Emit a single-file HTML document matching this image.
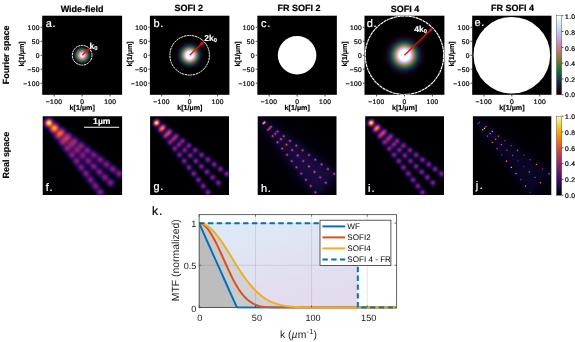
<!DOCTYPE html>
<html><head><meta charset="utf-8"><title>SOFI figure</title>
<style>html,body{margin:0;padding:0;background:#fff;overflow:hidden}body{width:575px;height:342px;font-family:"Liberation Sans",sans-serif}</style></head>
<body>
<svg width="575" height="342" viewBox="0 0 575 342" style="display:block;will-change:transform;text-rendering:geometricPrecision;font-family:'Liberation Sans',sans-serif">
<defs>
<filter id="inf" x="0" y="0" width="1" height="1" color-interpolation-filters="sRGB"><feComponentTransfer><feFuncR type="table" tableValues="0.0015 0.0060 0.0140 0.0258 0.0423 0.0613 0.0820 0.1046 0.1293 0.1558 0.1834 0.2111 0.2383 0.2648 0.2908 0.3163 0.3478 0.3728 0.3977 0.4225 0.4474 0.4723 0.4973 0.5222 0.5472 0.5721 0.5969 0.6217 0.6463 0.6706 0.6946 0.7183 0.7471 0.7696 0.7913 0.8122 0.8323 0.8514 0.8694 0.8863 0.9020 0.9165 0.9296 0.9415 0.9521 0.9613 0.9692 0.9757 0.9819 0.9853 0.9873 0.9879 0.9871 0.9849 0.9812 0.9761 0.9698 0.9625 0.9550 0.9487 0.9464 0.9517 0.9662 0.9884"/><feFuncG type="table" tableValues="0.0005 0.0047 0.0112 0.0193 0.0281 0.0366 0.0433 0.0470 0.0473 0.0446 0.0403 0.0370 0.0366 0.0396 0.0456 0.0535 0.0646 0.0739 0.0833 0.0925 0.1016 0.1105 0.1194 0.1281 0.1369 0.1458 0.1548 0.1642 0.1739 0.1842 0.1950 0.2066 0.2224 0.2361 0.2509 0.2668 0.2839 0.3023 0.3218 0.3426 0.3645 0.3875 0.4115 0.4364 0.4622 0.4887 0.5159 0.5438 0.5794 0.6084 0.6379 0.6677 0.6979 0.7284 0.7591 0.7900 0.8208 0.8515 0.8816 0.9105 0.9372 0.9606 0.9807 0.9984"/><feFuncB type="table" tableValues="0.0139 0.0386 0.0719 0.1059 0.1411 0.1776 0.2153 0.2534 0.2908 0.3253 0.3550 0.3786 0.3964 0.4093 0.4186 0.4251 0.4302 0.4324 0.4332 0.4327 0.4311 0.4283 0.4245 0.4195 0.4135 0.4064 0.3981 0.3888 0.3784 0.3669 0.3544 0.3409 0.3229 0.3075 0.2914 0.2747 0.2574 0.2396 0.2215 0.2030 0.1841 0.1649 0.1454 0.1254 0.1050 0.0843 0.0635 0.0436 0.0262 0.0242 0.0349 0.0583 0.0877 0.1208 0.1569 0.1960 0.2387 0.2855 0.3375 0.3953 0.4586 0.5242 0.5872 0.6449"/></feComponentTransfer></filter>
<radialGradient id="gwf" cx="0.5" cy="0.5" r="0.5">
<stop offset="0.0000" stop-color="#ffffff"/>
<stop offset="0.0250" stop-color="#ffffff"/>
<stop offset="0.0500" stop-color="#ffffff"/>
<stop offset="0.0750" stop-color="#ffffff"/>
<stop offset="0.1000" stop-color="#ffffff"/>
<stop offset="0.1250" stop-color="#effaf4"/>
<stop offset="0.1500" stop-color="#dcf3ef"/>
<stop offset="0.1750" stop-color="#cfebef"/>
<stop offset="0.2000" stop-color="#c5dff2"/>
<stop offset="0.2250" stop-color="#c1d1f3"/>
<stop offset="0.2500" stop-color="#c3c1f2"/>
<stop offset="0.2750" stop-color="#c8afea"/>
<stop offset="0.3000" stop-color="#cf9fdd"/>
<stop offset="0.3250" stop-color="#d391c9"/>
<stop offset="0.3500" stop-color="#d486af"/>
<stop offset="0.3750" stop-color="#d07e93"/>
<stop offset="0.4000" stop-color="#c57a76"/>
<stop offset="0.4250" stop-color="#b3795b"/>
<stop offset="0.4500" stop-color="#9f7948"/>
<stop offset="0.4750" stop-color="#847a38"/>
<stop offset="0.5000" stop-color="#6c7b31"/>
<stop offset="0.5250" stop-color="#54792f"/>
<stop offset="0.5500" stop-color="#3f7632"/>
<stop offset="0.5750" stop-color="#2d7038"/>
<stop offset="0.6000" stop-color="#206840"/>
<stop offset="0.6250" stop-color="#195e47"/>
<stop offset="0.6500" stop-color="#15524c"/>
<stop offset="0.6750" stop-color="#15464e"/>
<stop offset="0.7000" stop-color="#163b4e"/>
<stop offset="0.7250" stop-color="#182f49"/>
<stop offset="0.7500" stop-color="#1a2543"/>
<stop offset="0.7750" stop-color="#1b1c3a"/>
<stop offset="0.8000" stop-color="#1a142f"/>
<stop offset="0.8250" stop-color="#180f25"/>
<stop offset="0.8500" stop-color="#140a1b"/>
<stop offset="0.8750" stop-color="#100713"/>
<stop offset="0.9000" stop-color="#0b040c"/>
<stop offset="0.9250" stop-color="#050205"/>
<stop offset="0.9500" stop-color="#020102"/>
<stop offset="0.9750" stop-color="#000000"/>
<stop offset="1.0000" stop-color="#000000"/>
</radialGradient>
<radialGradient id="gs2" cx="0.5" cy="0.5" r="0.5">
<stop offset="0.0000" stop-color="#ffffff"/>
<stop offset="0.0250" stop-color="#ffffff"/>
<stop offset="0.0500" stop-color="#ffffff"/>
<stop offset="0.0750" stop-color="#ffffff"/>
<stop offset="0.1000" stop-color="#ffffff"/>
<stop offset="0.1250" stop-color="#ffffff"/>
<stop offset="0.1500" stop-color="#ffffff"/>
<stop offset="0.1750" stop-color="#edfaf4"/>
<stop offset="0.2000" stop-color="#d1edef"/>
<stop offset="0.2250" stop-color="#c2d7f3"/>
<stop offset="0.2500" stop-color="#c5b8ef"/>
<stop offset="0.2750" stop-color="#d198d4"/>
<stop offset="0.3000" stop-color="#d382a3"/>
<stop offset="0.3250" stop-color="#bf796d"/>
<stop offset="0.3500" stop-color="#937a40"/>
<stop offset="0.3750" stop-color="#637a2f"/>
<stop offset="0.4000" stop-color="#3a7533"/>
<stop offset="0.4250" stop-color="#206840"/>
<stop offset="0.4500" stop-color="#16554b"/>
<stop offset="0.4750" stop-color="#15424e"/>
<stop offset="0.5000" stop-color="#18314a"/>
<stop offset="0.5250" stop-color="#1a2240"/>
<stop offset="0.5500" stop-color="#1a1835"/>
<stop offset="0.5750" stop-color="#181027"/>
<stop offset="0.6000" stop-color="#150b1d"/>
<stop offset="0.6250" stop-color="#110815"/>
<stop offset="0.6500" stop-color="#0e050f"/>
<stop offset="0.6750" stop-color="#0a030a"/>
<stop offset="0.7000" stop-color="#070206"/>
<stop offset="0.7250" stop-color="#030103"/>
<stop offset="0.7500" stop-color="#020102"/>
<stop offset="0.7750" stop-color="#020102"/>
<stop offset="0.8000" stop-color="#000000"/>
<stop offset="0.8250" stop-color="#000000"/>
<stop offset="0.8500" stop-color="#000000"/>
<stop offset="0.8750" stop-color="#000000"/>
<stop offset="0.9000" stop-color="#000000"/>
<stop offset="0.9250" stop-color="#000000"/>
<stop offset="0.9500" stop-color="#000000"/>
<stop offset="0.9750" stop-color="#000000"/>
<stop offset="1.0000" stop-color="#000000"/>
</radialGradient>
<radialGradient id="gs4" cx="0.5" cy="0.5" r="0.5">
<stop offset="0.0000" stop-color="#ffffff"/>
<stop offset="0.0250" stop-color="#ffffff"/>
<stop offset="0.0500" stop-color="#ffffff"/>
<stop offset="0.0750" stop-color="#ffffff"/>
<stop offset="0.1000" stop-color="#ffffff"/>
<stop offset="0.1250" stop-color="#ffffff"/>
<stop offset="0.1500" stop-color="#d9f2ef"/>
<stop offset="0.1750" stop-color="#c1d1f3"/>
<stop offset="0.2000" stop-color="#cf9fdd"/>
<stop offset="0.2250" stop-color="#d07e93"/>
<stop offset="0.2500" stop-color="#a1794a"/>
<stop offset="0.2750" stop-color="#5a7a2f"/>
<stop offset="0.3000" stop-color="#2a6e3a"/>
<stop offset="0.3250" stop-color="#16554b"/>
<stop offset="0.3500" stop-color="#163b4e"/>
<stop offset="0.3750" stop-color="#1a2543"/>
<stop offset="0.4000" stop-color="#1a1733"/>
<stop offset="0.4250" stop-color="#170e23"/>
<stop offset="0.4500" stop-color="#120817"/>
<stop offset="0.4750" stop-color="#0e050f"/>
<stop offset="0.5000" stop-color="#080308"/>
<stop offset="0.5250" stop-color="#050205"/>
<stop offset="0.5500" stop-color="#030103"/>
<stop offset="0.5750" stop-color="#020102"/>
<stop offset="0.6000" stop-color="#000000"/>
<stop offset="0.6250" stop-color="#000000"/>
<stop offset="0.6500" stop-color="#000000"/>
<stop offset="0.6750" stop-color="#000000"/>
<stop offset="0.7000" stop-color="#000000"/>
<stop offset="0.7250" stop-color="#000000"/>
<stop offset="0.7500" stop-color="#000000"/>
<stop offset="0.7750" stop-color="#000000"/>
<stop offset="0.8000" stop-color="#000000"/>
<stop offset="0.8250" stop-color="#000000"/>
<stop offset="0.8500" stop-color="#000000"/>
<stop offset="0.8750" stop-color="#000000"/>
<stop offset="0.9000" stop-color="#000000"/>
<stop offset="0.9250" stop-color="#000000"/>
<stop offset="0.9500" stop-color="#000000"/>
<stop offset="0.9750" stop-color="#000000"/>
<stop offset="1.0000" stop-color="#000000"/>
</radialGradient>
<linearGradient id="cbc" x1="0" y1="1" x2="0" y2="0">
<stop offset="0.0000" stop-color="#000000"/>
<stop offset="0.0312" stop-color="#0c050e"/>
<stop offset="0.0625" stop-color="#150b1d"/>
<stop offset="0.0938" stop-color="#19132d"/>
<stop offset="0.1250" stop-color="#1b1e3b"/>
<stop offset="0.1562" stop-color="#192a46"/>
<stop offset="0.1875" stop-color="#17374d"/>
<stop offset="0.2188" stop-color="#15464e"/>
<stop offset="0.2500" stop-color="#16534c"/>
<stop offset="0.2812" stop-color="#1a6046"/>
<stop offset="0.3125" stop-color="#236a3e"/>
<stop offset="0.3438" stop-color="#317236"/>
<stop offset="0.3750" stop-color="#447731"/>
<stop offset="0.4062" stop-color="#5a7a2f"/>
<stop offset="0.4375" stop-color="#727b32"/>
<stop offset="0.4688" stop-color="#8a7a3b"/>
<stop offset="0.5000" stop-color="#a1794a"/>
<stop offset="0.5312" stop-color="#b5795e"/>
<stop offset="0.5625" stop-color="#c57a76"/>
<stop offset="0.5938" stop-color="#cf7e8f"/>
<stop offset="0.6250" stop-color="#d484a9"/>
<stop offset="0.6562" stop-color="#d48dc1"/>
<stop offset="0.6875" stop-color="#d198d4"/>
<stop offset="0.7188" stop-color="#cca6e4"/>
<stop offset="0.7500" stop-color="#c6b4ee"/>
<stop offset="0.7812" stop-color="#c2c3f2"/>
<stop offset="0.8125" stop-color="#c1d1f3"/>
<stop offset="0.8438" stop-color="#c4ddf2"/>
<stop offset="0.8750" stop-color="#cbe8f0"/>
<stop offset="0.9062" stop-color="#d6f0ef"/>
<stop offset="0.9375" stop-color="#e3f6f0"/>
<stop offset="0.9688" stop-color="#f2fbf6"/>
<stop offset="1.0000" stop-color="#ffffff"/>
</linearGradient>
<linearGradient id="cbi" x1="0" y1="1" x2="0" y2="0">
<stop offset="0.0000" stop-color="#000004"/>
<stop offset="0.0312" stop-color="#040312"/>
<stop offset="0.0625" stop-color="#0b0724"/>
<stop offset="0.0938" stop-color="#150b37"/>
<stop offset="0.1250" stop-color="#210c4a"/>
<stop offset="0.1562" stop-color="#2f0a5b"/>
<stop offset="0.1875" stop-color="#3d0965"/>
<stop offset="0.2188" stop-color="#4a0c6b"/>
<stop offset="0.2500" stop-color="#57106e"/>
<stop offset="0.2812" stop-color="#64156e"/>
<stop offset="0.3125" stop-color="#71196e"/>
<stop offset="0.3438" stop-color="#7d1e6d"/>
<stop offset="0.3750" stop-color="#8a226a"/>
<stop offset="0.4062" stop-color="#972766"/>
<stop offset="0.4375" stop-color="#a32c61"/>
<stop offset="0.4688" stop-color="#b0315b"/>
<stop offset="0.5000" stop-color="#bc3754"/>
<stop offset="0.5312" stop-color="#c73e4c"/>
<stop offset="0.5625" stop-color="#d24644"/>
<stop offset="0.5938" stop-color="#db503b"/>
<stop offset="0.6250" stop-color="#e45a31"/>
<stop offset="0.6562" stop-color="#eb6628"/>
<stop offset="0.6875" stop-color="#f1731d"/>
<stop offset="0.7188" stop-color="#f68013"/>
<stop offset="0.7500" stop-color="#f98e09"/>
<stop offset="0.7812" stop-color="#fb9d07"/>
<stop offset="0.8125" stop-color="#fcac11"/>
<stop offset="0.8438" stop-color="#fbbc21"/>
<stop offset="0.8750" stop-color="#f9cb35"/>
<stop offset="0.9062" stop-color="#f5db4c"/>
<stop offset="0.9375" stop-color="#f2ea69"/>
<stop offset="0.9688" stop-color="#f3f68a"/>
<stop offset="1.0000" stop-color="#fcffa4"/>
</linearGradient>
<radialGradient id="blob" cx="0.5" cy="0.5" r="0.5">
<stop offset="0.0000" stop-color="#fff" stop-opacity="1.0000"/>
<stop offset="0.0625" stop-color="#fff" stop-opacity="0.9826"/>
<stop offset="0.1250" stop-color="#fff" stop-opacity="0.9321"/>
<stop offset="0.1875" stop-color="#fff" stop-opacity="0.8537"/>
<stop offset="0.2500" stop-color="#fff" stop-opacity="0.7548"/>
<stop offset="0.3125" stop-color="#fff" stop-opacity="0.6444"/>
<stop offset="0.3750" stop-color="#fff" stop-opacity="0.5311"/>
<stop offset="0.4375" stop-color="#fff" stop-opacity="0.4226"/>
<stop offset="0.5000" stop-color="#fff" stop-opacity="0.3247"/>
<stop offset="0.5625" stop-color="#fff" stop-opacity="0.2408"/>
<stop offset="0.6250" stop-color="#fff" stop-opacity="0.1724"/>
<stop offset="0.6875" stop-color="#fff" stop-opacity="0.1192"/>
<stop offset="0.7500" stop-color="#fff" stop-opacity="0.0796"/>
<stop offset="0.8125" stop-color="#fff" stop-opacity="0.0513"/>
<stop offset="0.8750" stop-color="#fff" stop-opacity="0.0319"/>
<stop offset="0.9375" stop-color="#fff" stop-opacity="0.0192"/>
<stop offset="1.0000" stop-color="#fff" stop-opacity="0.0000"/>
</radialGradient>
<linearGradient id="frfill" x1="0" y1="0" x2="0.35" y2="1"><stop offset="0" stop-color="#dcebf7"/><stop offset="1" stop-color="#e4dbee"/></linearGradient>
<clipPath id="c10"><rect x="42.2" y="15.7" width="79.89999999999999" height="79.1"/></clipPath>
<clipPath id="c20"><rect x="42.7" y="116.15" width="79.40" height="78.75"/></clipPath>
<clipPath id="c11"><rect x="149.9" y="15.7" width="79.5" height="79.1"/></clipPath>
<clipPath id="c21"><rect x="150.1" y="116.15" width="78.90" height="78.75"/></clipPath>
<clipPath id="c12"><rect x="257.35" y="15.7" width="79.5" height="79.1"/></clipPath>
<clipPath id="c22"><rect x="257.7" y="116.15" width="78.80" height="78.75"/></clipPath>
<clipPath id="c13"><rect x="364.5" y="15.7" width="79.89999999999998" height="79.1"/></clipPath>
<clipPath id="c23"><rect x="365.2" y="116.15" width="78.80" height="78.75"/></clipPath>
<clipPath id="c14"><rect x="472.2" y="15.7" width="79.30000000000001" height="79.1"/></clipPath>
<clipPath id="c24"><rect x="472.9" y="116.15" width="78.40" height="78.75"/></clipPath>
</defs>
<rect width="575" height="342" fill="#fff"/>
<text transform="translate(8.6,54.9) rotate(-90)" text-anchor="middle" font-weight="bold" font-size="8.95" stroke="#000" stroke-width="0.15">Fourier space</text>
<text transform="translate(8.6,155.1) rotate(-90)" text-anchor="middle" font-weight="bold" font-size="8.95" stroke="#000" stroke-width="0.15">Real space</text>
<text x="82.15" y="12.1" text-anchor="middle" font-weight="bold" font-size="9.0" stroke="#000" stroke-width="0.2">Wide-field</text>
<rect x="42.2" y="15.7" width="79.89999999999999" height="79.1" fill="#000"/>
<g clip-path="url(#c10)">
<circle cx="82.15" cy="55.25" r="10.06" fill="url(#gwf)"/>
<circle cx="82.15" cy="55.25" r="9.85" fill="none" stroke="#fff" stroke-width="1.0" stroke-dasharray="2.2 0.6"/>
<line x1="82.15" y1="55.25" x2="88.16" y2="49.45" stroke="#f00" stroke-width="1.3"/>
<polygon points="89.24,48.41 84.89,49.96 87.53,52.69" fill="#f00"/>
<text x="89.44" y="48.91" fill="#fff" stroke="#fff" stroke-width="0.15" font-weight="bold" font-size="8.5">k<tspan font-size="5.8" dy="1.2">0</tspan></text>
</g>
<text x="45.8" y="26.5" fill="#fff" stroke="#fff" stroke-width="0.2" letter-spacing="0.7" font-size="11.0">a.</text>
<line x1="54.20" y1="94.8" x2="54.20" y2="96.5" stroke="#000" stroke-width="0.7"/>
<text x="54.10" y="103.70" text-anchor="middle" font-size="6.7" fill="#000" letter-spacing="0.35" stroke="#000" stroke-width="0.22">−100</text>
<line x1="82.15" y1="94.8" x2="82.15" y2="96.5" stroke="#000" stroke-width="0.7"/>
<text x="82.30" y="103.70" text-anchor="middle" font-size="6.7" fill="#000" letter-spacing="0.35" stroke="#000" stroke-width="0.22">0</text>
<line x1="110.10" y1="94.8" x2="110.10" y2="96.5" stroke="#000" stroke-width="0.7"/>
<text x="110.25" y="103.70" text-anchor="middle" font-size="6.7" fill="#000" letter-spacing="0.35" stroke="#000" stroke-width="0.22">100</text>
<line x1="40.5" y1="83.20" x2="42.2" y2="83.20" stroke="#000" stroke-width="0.7"/>
<text x="39.80" y="85.60" text-anchor="end" font-size="6.7" fill="#000" letter-spacing="0.35" stroke="#000" stroke-width="0.22">−100</text>
<line x1="40.5" y1="69.22" x2="42.2" y2="69.22" stroke="#000" stroke-width="0.7"/>
<text x="39.80" y="71.62" text-anchor="end" font-size="6.7" fill="#000" letter-spacing="0.35" stroke="#000" stroke-width="0.22">−50</text>
<line x1="40.5" y1="55.25" x2="42.2" y2="55.25" stroke="#000" stroke-width="0.7"/>
<text x="39.80" y="57.65" text-anchor="end" font-size="6.7" fill="#000" letter-spacing="0.35" stroke="#000" stroke-width="0.22">0</text>
<line x1="40.5" y1="41.27" x2="42.2" y2="41.27" stroke="#000" stroke-width="0.7"/>
<text x="39.80" y="43.67" text-anchor="end" font-size="6.7" fill="#000" letter-spacing="0.35" stroke="#000" stroke-width="0.22">50</text>
<line x1="40.5" y1="27.30" x2="42.2" y2="27.30" stroke="#000" stroke-width="0.7"/>
<text x="39.80" y="29.70" text-anchor="end" font-size="6.7" fill="#000" letter-spacing="0.35" stroke="#000" stroke-width="0.22">100</text>
<text x="82.2" y="110.4" text-anchor="middle" font-weight="bold" font-size="7.2" stroke="#000" stroke-width="0.15">k[1/µm]</text>
<text transform="translate(24.4,53.9) rotate(-90)" text-anchor="middle" font-weight="bold" font-size="7.2" stroke="#000" stroke-width="0.15">k[1/µm]</text>
<text x="188.65" y="11.3" text-anchor="middle" font-weight="bold" font-size="9.0" stroke="#000" stroke-width="0.2">SOFI 2</text>
<rect x="149.9" y="15.7" width="79.5" height="79.1" fill="#000"/>
<g clip-path="url(#c11)">
<circle cx="189.65" cy="55.25" r="20.12" fill="url(#gs2)"/>
<circle cx="189.65" cy="55.25" r="19.80" fill="none" stroke="#fff" stroke-width="1.0" stroke-dasharray="2.2 0.6"/>
<line x1="189.65" y1="55.25" x2="202.81" y2="42.54" stroke="#f00" stroke-width="1.3"/>
<polygon points="203.89,41.50 199.55,43.05 202.19,45.78" fill="#f00"/>
<text x="204.29" y="40.50" fill="#fff" stroke="#fff" stroke-width="0.15" font-weight="bold" font-size="8.5">2k<tspan font-size="5.8" dy="1.2">0</tspan></text>
</g>
<text x="153.5" y="26.5" fill="#fff" stroke="#fff" stroke-width="0.2" letter-spacing="0.7" font-size="11.0">b.</text>
<line x1="161.70" y1="94.8" x2="161.70" y2="96.5" stroke="#000" stroke-width="0.7"/>
<text x="161.60" y="103.70" text-anchor="middle" font-size="6.7" fill="#000" letter-spacing="0.35" stroke="#000" stroke-width="0.22">−100</text>
<line x1="189.65" y1="94.8" x2="189.65" y2="96.5" stroke="#000" stroke-width="0.7"/>
<text x="189.80" y="103.70" text-anchor="middle" font-size="6.7" fill="#000" letter-spacing="0.35" stroke="#000" stroke-width="0.22">0</text>
<line x1="217.60" y1="94.8" x2="217.60" y2="96.5" stroke="#000" stroke-width="0.7"/>
<text x="217.75" y="103.70" text-anchor="middle" font-size="6.7" fill="#000" letter-spacing="0.35" stroke="#000" stroke-width="0.22">100</text>
<line x1="148.20000000000002" y1="83.20" x2="149.9" y2="83.20" stroke="#000" stroke-width="0.7"/>
<text x="147.50" y="85.60" text-anchor="end" font-size="6.7" fill="#000" letter-spacing="0.35" stroke="#000" stroke-width="0.22">−100</text>
<line x1="148.20000000000002" y1="69.22" x2="149.9" y2="69.22" stroke="#000" stroke-width="0.7"/>
<text x="147.50" y="71.62" text-anchor="end" font-size="6.7" fill="#000" letter-spacing="0.35" stroke="#000" stroke-width="0.22">−50</text>
<line x1="148.20000000000002" y1="55.25" x2="149.9" y2="55.25" stroke="#000" stroke-width="0.7"/>
<text x="147.50" y="57.65" text-anchor="end" font-size="6.7" fill="#000" letter-spacing="0.35" stroke="#000" stroke-width="0.22">0</text>
<line x1="148.20000000000002" y1="41.27" x2="149.9" y2="41.27" stroke="#000" stroke-width="0.7"/>
<text x="147.50" y="43.67" text-anchor="end" font-size="6.7" fill="#000" letter-spacing="0.35" stroke="#000" stroke-width="0.22">50</text>
<line x1="148.20000000000002" y1="27.30" x2="149.9" y2="27.30" stroke="#000" stroke-width="0.7"/>
<text x="147.50" y="29.70" text-anchor="end" font-size="6.7" fill="#000" letter-spacing="0.35" stroke="#000" stroke-width="0.22">100</text>
<text x="189.8" y="110.4" text-anchor="middle" font-weight="bold" font-size="7.2" stroke="#000" stroke-width="0.15">k[1/µm]</text>
<text transform="translate(132.1,53.9) rotate(-90)" text-anchor="middle" font-weight="bold" font-size="7.2" stroke="#000" stroke-width="0.15">k[1/µm]</text>
<text x="298.90" y="11.2" text-anchor="middle" font-weight="bold" font-size="9.0" stroke="#000" stroke-width="0.2">FR SOFI 2</text>
<rect x="257.35" y="15.7" width="79.5" height="79.1" fill="#000"/>
<g clip-path="url(#c12)">
<circle cx="297.10" cy="55.25" r="19.25" fill="#fff"/>
</g>
<text x="261.0" y="26.5" fill="#fff" stroke="#fff" stroke-width="0.2" letter-spacing="0.7" font-size="11.0">c.</text>
<line x1="269.15" y1="94.8" x2="269.15" y2="96.5" stroke="#000" stroke-width="0.7"/>
<text x="269.05" y="103.70" text-anchor="middle" font-size="6.7" fill="#000" letter-spacing="0.35" stroke="#000" stroke-width="0.22">−100</text>
<line x1="297.10" y1="94.8" x2="297.10" y2="96.5" stroke="#000" stroke-width="0.7"/>
<text x="297.25" y="103.70" text-anchor="middle" font-size="6.7" fill="#000" letter-spacing="0.35" stroke="#000" stroke-width="0.22">0</text>
<line x1="325.05" y1="94.8" x2="325.05" y2="96.5" stroke="#000" stroke-width="0.7"/>
<text x="325.20" y="103.70" text-anchor="middle" font-size="6.7" fill="#000" letter-spacing="0.35" stroke="#000" stroke-width="0.22">100</text>
<line x1="255.65000000000003" y1="83.20" x2="257.35" y2="83.20" stroke="#000" stroke-width="0.7"/>
<text x="254.95" y="85.60" text-anchor="end" font-size="6.7" fill="#000" letter-spacing="0.35" stroke="#000" stroke-width="0.22">−100</text>
<line x1="255.65000000000003" y1="69.22" x2="257.35" y2="69.22" stroke="#000" stroke-width="0.7"/>
<text x="254.95" y="71.62" text-anchor="end" font-size="6.7" fill="#000" letter-spacing="0.35" stroke="#000" stroke-width="0.22">−50</text>
<line x1="255.65000000000003" y1="55.25" x2="257.35" y2="55.25" stroke="#000" stroke-width="0.7"/>
<text x="254.95" y="57.65" text-anchor="end" font-size="6.7" fill="#000" letter-spacing="0.35" stroke="#000" stroke-width="0.22">0</text>
<line x1="255.65000000000003" y1="41.27" x2="257.35" y2="41.27" stroke="#000" stroke-width="0.7"/>
<text x="254.95" y="43.67" text-anchor="end" font-size="6.7" fill="#000" letter-spacing="0.35" stroke="#000" stroke-width="0.22">50</text>
<line x1="255.65000000000003" y1="27.30" x2="257.35" y2="27.30" stroke="#000" stroke-width="0.7"/>
<text x="254.95" y="29.70" text-anchor="end" font-size="6.7" fill="#000" letter-spacing="0.35" stroke="#000" stroke-width="0.22">100</text>
<text x="297.2" y="110.4" text-anchor="middle" font-weight="bold" font-size="7.2" stroke="#000" stroke-width="0.15">k[1/µm]</text>
<text transform="translate(239.6,53.9) rotate(-90)" text-anchor="middle" font-weight="bold" font-size="7.2" stroke="#000" stroke-width="0.15">k[1/µm]</text>
<text x="404.95" y="11.5" text-anchor="middle" font-weight="bold" font-size="9.0" stroke="#000" stroke-width="0.2">SOFI 4</text>
<rect x="364.5" y="15.7" width="79.89999999999998" height="79.1" fill="#000"/>
<g clip-path="url(#c13)">
<circle cx="404.45" cy="55.25" r="39.13" fill="url(#gs4)"/>
<circle cx="404.45" cy="55.25" r="39.25" fill="none" stroke="#fff" stroke-width="1.15" stroke-dasharray="3.2 0.5"/>
<line x1="404.45" y1="55.25" x2="431.61" y2="29.03" stroke="#f00" stroke-width="1.3"/>
<polygon points="432.68,27.98 428.34,29.54 430.98,32.27" fill="#f00"/>
<text x="414.28" y="31.88" fill="#fff" stroke="#fff" stroke-width="0.15" font-weight="bold" font-size="8.5">4k<tspan font-size="5.8" dy="1.2">0</tspan></text>
</g>
<text x="366.8" y="26.8" fill="#fff" stroke="#fff" stroke-width="0.2" letter-spacing="0.7" font-size="11.0">d.</text>
<line x1="376.50" y1="94.8" x2="376.50" y2="96.5" stroke="#000" stroke-width="0.7"/>
<text x="376.40" y="103.70" text-anchor="middle" font-size="6.7" fill="#000" letter-spacing="0.35" stroke="#000" stroke-width="0.22">−100</text>
<line x1="404.45" y1="94.8" x2="404.45" y2="96.5" stroke="#000" stroke-width="0.7"/>
<text x="404.60" y="103.70" text-anchor="middle" font-size="6.7" fill="#000" letter-spacing="0.35" stroke="#000" stroke-width="0.22">0</text>
<line x1="432.40" y1="94.8" x2="432.40" y2="96.5" stroke="#000" stroke-width="0.7"/>
<text x="432.55" y="103.70" text-anchor="middle" font-size="6.7" fill="#000" letter-spacing="0.35" stroke="#000" stroke-width="0.22">100</text>
<line x1="362.8" y1="83.20" x2="364.5" y2="83.20" stroke="#000" stroke-width="0.7"/>
<text x="362.10" y="85.60" text-anchor="end" font-size="6.7" fill="#000" letter-spacing="0.35" stroke="#000" stroke-width="0.22">−100</text>
<line x1="362.8" y1="69.22" x2="364.5" y2="69.22" stroke="#000" stroke-width="0.7"/>
<text x="362.10" y="71.62" text-anchor="end" font-size="6.7" fill="#000" letter-spacing="0.35" stroke="#000" stroke-width="0.22">−50</text>
<line x1="362.8" y1="55.25" x2="364.5" y2="55.25" stroke="#000" stroke-width="0.7"/>
<text x="362.10" y="57.65" text-anchor="end" font-size="6.7" fill="#000" letter-spacing="0.35" stroke="#000" stroke-width="0.22">0</text>
<line x1="362.8" y1="41.27" x2="364.5" y2="41.27" stroke="#000" stroke-width="0.7"/>
<text x="362.10" y="43.67" text-anchor="end" font-size="6.7" fill="#000" letter-spacing="0.35" stroke="#000" stroke-width="0.22">50</text>
<line x1="362.8" y1="27.30" x2="364.5" y2="27.30" stroke="#000" stroke-width="0.7"/>
<text x="362.10" y="29.70" text-anchor="end" font-size="6.7" fill="#000" letter-spacing="0.35" stroke="#000" stroke-width="0.22">100</text>
<text x="404.6" y="110.4" text-anchor="middle" font-weight="bold" font-size="7.2" stroke="#000" stroke-width="0.15">k[1/µm]</text>
<text transform="translate(346.7,53.9) rotate(-90)" text-anchor="middle" font-weight="bold" font-size="7.2" stroke="#000" stroke-width="0.15">k[1/µm]</text>
<text x="512.40" y="11.4" text-anchor="middle" font-weight="bold" font-size="9.0" stroke="#000" stroke-width="0.2">FR SOFI 4</text>
<rect x="472.2" y="15.7" width="79.30000000000001" height="79.1" fill="#000"/>
<g clip-path="url(#c14)">
<circle cx="511.85" cy="55.25" r="38.3" fill="#fff"/>
</g>
<text x="474.5" y="26.1" fill="#fff" stroke="#fff" stroke-width="0.2" letter-spacing="0.7" font-size="11.0">e.</text>
<line x1="483.90" y1="94.8" x2="483.90" y2="96.5" stroke="#000" stroke-width="0.7"/>
<text x="483.80" y="103.70" text-anchor="middle" font-size="6.7" fill="#000" letter-spacing="0.35" stroke="#000" stroke-width="0.22">−100</text>
<line x1="511.85" y1="94.8" x2="511.85" y2="96.5" stroke="#000" stroke-width="0.7"/>
<text x="512.00" y="103.70" text-anchor="middle" font-size="6.7" fill="#000" letter-spacing="0.35" stroke="#000" stroke-width="0.22">0</text>
<line x1="539.80" y1="94.8" x2="539.80" y2="96.5" stroke="#000" stroke-width="0.7"/>
<text x="539.95" y="103.70" text-anchor="middle" font-size="6.7" fill="#000" letter-spacing="0.35" stroke="#000" stroke-width="0.22">100</text>
<line x1="470.5" y1="83.20" x2="472.2" y2="83.20" stroke="#000" stroke-width="0.7"/>
<text x="469.80" y="85.60" text-anchor="end" font-size="6.7" fill="#000" letter-spacing="0.35" stroke="#000" stroke-width="0.22">−100</text>
<line x1="470.5" y1="69.22" x2="472.2" y2="69.22" stroke="#000" stroke-width="0.7"/>
<text x="469.80" y="71.62" text-anchor="end" font-size="6.7" fill="#000" letter-spacing="0.35" stroke="#000" stroke-width="0.22">−50</text>
<line x1="470.5" y1="55.25" x2="472.2" y2="55.25" stroke="#000" stroke-width="0.7"/>
<text x="469.80" y="57.65" text-anchor="end" font-size="6.7" fill="#000" letter-spacing="0.35" stroke="#000" stroke-width="0.22">0</text>
<line x1="470.5" y1="41.27" x2="472.2" y2="41.27" stroke="#000" stroke-width="0.7"/>
<text x="469.80" y="43.67" text-anchor="end" font-size="6.7" fill="#000" letter-spacing="0.35" stroke="#000" stroke-width="0.22">50</text>
<line x1="470.5" y1="27.30" x2="472.2" y2="27.30" stroke="#000" stroke-width="0.7"/>
<text x="469.80" y="29.70" text-anchor="end" font-size="6.7" fill="#000" letter-spacing="0.35" stroke="#000" stroke-width="0.22">100</text>
<text x="512.0" y="110.4" text-anchor="middle" font-weight="bold" font-size="7.2" stroke="#000" stroke-width="0.15">k[1/µm]</text>
<text transform="translate(454.4,53.9) rotate(-90)" text-anchor="middle" font-weight="bold" font-size="7.2" stroke="#000" stroke-width="0.15">k[1/µm]</text>
<rect x="556.5" y="15.7" width="5.2" height="79.1" fill="url(#cbc)" stroke="#333" stroke-width="0.4"/>
<line x1="561.7" y1="94.80" x2="563.4000000000001" y2="94.80" stroke="#000" stroke-width="0.7"/>
<text x="565.10" y="97.20" font-size="6.7" fill="#000" letter-spacing="0.35" stroke="#000" stroke-width="0.22">0.0</text>
<line x1="561.7" y1="78.98" x2="563.4000000000001" y2="78.98" stroke="#000" stroke-width="0.7"/>
<text x="565.10" y="81.64" font-size="6.7" fill="#000" letter-spacing="0.35" stroke="#000" stroke-width="0.22">0.2</text>
<line x1="561.7" y1="63.16" x2="563.4000000000001" y2="63.16" stroke="#000" stroke-width="0.7"/>
<text x="565.10" y="66.08" font-size="6.7" fill="#000" letter-spacing="0.35" stroke="#000" stroke-width="0.22">0.4</text>
<line x1="561.7" y1="47.34" x2="563.4000000000001" y2="47.34" stroke="#000" stroke-width="0.7"/>
<text x="565.10" y="50.52" font-size="6.7" fill="#000" letter-spacing="0.35" stroke="#000" stroke-width="0.22">0.6</text>
<line x1="561.7" y1="31.52" x2="563.4000000000001" y2="31.52" stroke="#000" stroke-width="0.7"/>
<text x="565.10" y="34.96" font-size="6.7" fill="#000" letter-spacing="0.35" stroke="#000" stroke-width="0.22">0.8</text>
<line x1="561.7" y1="15.70" x2="563.4000000000001" y2="15.70" stroke="#000" stroke-width="0.7"/>
<text x="565.10" y="19.40" font-size="6.7" fill="#000" letter-spacing="0.35" stroke="#000" stroke-width="0.22">1.0</text>
<rect x="556.5" y="116.15" width="5.2" height="79.1" fill="url(#cbi)" stroke="#333" stroke-width="0.4"/>
<line x1="561.7" y1="195.25" x2="563.4000000000001" y2="195.25" stroke="#000" stroke-width="0.7"/>
<text x="565.10" y="198.00" font-size="6.7" fill="#000" letter-spacing="0.35" stroke="#000" stroke-width="0.22">0.0</text>
<line x1="561.7" y1="179.43" x2="563.4000000000001" y2="179.43" stroke="#000" stroke-width="0.7"/>
<text x="565.10" y="182.18" font-size="6.7" fill="#000" letter-spacing="0.35" stroke="#000" stroke-width="0.22">0.2</text>
<line x1="561.7" y1="163.61" x2="563.4000000000001" y2="163.61" stroke="#000" stroke-width="0.7"/>
<text x="565.10" y="166.36" font-size="6.7" fill="#000" letter-spacing="0.35" stroke="#000" stroke-width="0.22">0.4</text>
<line x1="561.7" y1="147.79" x2="563.4000000000001" y2="147.79" stroke="#000" stroke-width="0.7"/>
<text x="565.10" y="150.54" font-size="6.7" fill="#000" letter-spacing="0.35" stroke="#000" stroke-width="0.22">0.6</text>
<line x1="561.7" y1="131.97" x2="563.4000000000001" y2="131.97" stroke="#000" stroke-width="0.7"/>
<text x="565.10" y="134.72" font-size="6.7" fill="#000" letter-spacing="0.35" stroke="#000" stroke-width="0.22">0.8</text>
<line x1="561.7" y1="116.15" x2="563.4000000000001" y2="116.15" stroke="#000" stroke-width="0.7"/>
<text x="565.10" y="118.90" font-size="6.7" fill="#000" letter-spacing="0.35" stroke="#000" stroke-width="0.22">1.0</text>
<filter id="hz2" x="-0.5" y="-0.5" width="2" height="2" color-interpolation-filters="sRGB"><feGaussianBlur stdDeviation="9"/></filter>
<filter id="hz" x="-0.5" y="-0.5" width="2" height="2" color-interpolation-filters="sRGB"><feGaussianBlur stdDeviation="4.5"/></filter>
<g filter="url(#inf)" clip-path="url(#c20)"><g style="isolation:isolate">
<rect x="39.2" y="113.15" width="85.89999999999999" height="85.1" fill="#000"/>
<circle cx="49.61" cy="122.05" r="7.80" fill="url(#blob)" opacity="0.350" style="mix-blend-mode:plus-lighter"/>
<circle cx="55.93" cy="126.75" r="7.80" fill="url(#blob)" opacity="0.350" style="mix-blend-mode:plus-lighter"/>
<circle cx="62.24" cy="131.46" r="7.80" fill="url(#blob)" opacity="0.350" style="mix-blend-mode:plus-lighter"/>
<circle cx="68.56" cy="136.16" r="7.80" fill="url(#blob)" opacity="0.350" style="mix-blend-mode:plus-lighter"/>
<circle cx="74.88" cy="140.87" r="7.80" fill="url(#blob)" opacity="0.350" style="mix-blend-mode:plus-lighter"/>
<circle cx="81.20" cy="145.57" r="7.80" fill="url(#blob)" opacity="0.350" style="mix-blend-mode:plus-lighter"/>
<circle cx="87.51" cy="150.28" r="7.80" fill="url(#blob)" opacity="0.350" style="mix-blend-mode:plus-lighter"/>
<circle cx="93.83" cy="154.98" r="7.80" fill="url(#blob)" opacity="0.350" style="mix-blend-mode:plus-lighter"/>
<circle cx="100.15" cy="159.69" r="7.80" fill="url(#blob)" opacity="0.350" style="mix-blend-mode:plus-lighter"/>
<circle cx="106.47" cy="164.39" r="7.80" fill="url(#blob)" opacity="0.350" style="mix-blend-mode:plus-lighter"/>
<circle cx="112.78" cy="169.10" r="7.80" fill="url(#blob)" opacity="0.350" style="mix-blend-mode:plus-lighter"/>
<circle cx="119.10" cy="173.80" r="7.80" fill="url(#blob)" opacity="0.350" style="mix-blend-mode:plus-lighter"/>
<circle cx="48.90" cy="122.80" r="7.80" fill="url(#blob)" opacity="0.350" style="mix-blend-mode:plus-lighter"/>
<circle cx="54.51" cy="128.25" r="7.80" fill="url(#blob)" opacity="0.350" style="mix-blend-mode:plus-lighter"/>
<circle cx="60.12" cy="133.71" r="7.80" fill="url(#blob)" opacity="0.350" style="mix-blend-mode:plus-lighter"/>
<circle cx="65.73" cy="139.16" r="7.80" fill="url(#blob)" opacity="0.350" style="mix-blend-mode:plus-lighter"/>
<circle cx="71.34" cy="144.62" r="7.80" fill="url(#blob)" opacity="0.350" style="mix-blend-mode:plus-lighter"/>
<circle cx="76.95" cy="150.07" r="7.80" fill="url(#blob)" opacity="0.350" style="mix-blend-mode:plus-lighter"/>
<circle cx="82.55" cy="155.53" r="7.80" fill="url(#blob)" opacity="0.350" style="mix-blend-mode:plus-lighter"/>
<circle cx="88.16" cy="160.98" r="7.80" fill="url(#blob)" opacity="0.350" style="mix-blend-mode:plus-lighter"/>
<circle cx="93.77" cy="166.44" r="7.80" fill="url(#blob)" opacity="0.350" style="mix-blend-mode:plus-lighter"/>
<circle cx="99.38" cy="171.89" r="7.80" fill="url(#blob)" opacity="0.350" style="mix-blend-mode:plus-lighter"/>
<circle cx="104.99" cy="177.35" r="7.80" fill="url(#blob)" opacity="0.350" style="mix-blend-mode:plus-lighter"/>
<circle cx="110.60" cy="182.80" r="7.80" fill="url(#blob)" opacity="0.350" style="mix-blend-mode:plus-lighter"/>
<circle cx="48.04" cy="123.59" r="7.80" fill="url(#blob)" opacity="0.350" style="mix-blend-mode:plus-lighter"/>
<circle cx="52.79" cy="129.84" r="7.80" fill="url(#blob)" opacity="0.350" style="mix-blend-mode:plus-lighter"/>
<circle cx="57.54" cy="136.08" r="7.80" fill="url(#blob)" opacity="0.350" style="mix-blend-mode:plus-lighter"/>
<circle cx="62.29" cy="142.33" r="7.80" fill="url(#blob)" opacity="0.350" style="mix-blend-mode:plus-lighter"/>
<circle cx="67.04" cy="148.58" r="7.80" fill="url(#blob)" opacity="0.350" style="mix-blend-mode:plus-lighter"/>
<circle cx="71.80" cy="154.82" r="7.80" fill="url(#blob)" opacity="0.350" style="mix-blend-mode:plus-lighter"/>
<circle cx="76.55" cy="161.07" r="7.80" fill="url(#blob)" opacity="0.350" style="mix-blend-mode:plus-lighter"/>
<circle cx="81.30" cy="167.32" r="7.80" fill="url(#blob)" opacity="0.350" style="mix-blend-mode:plus-lighter"/>
<circle cx="86.05" cy="173.56" r="7.80" fill="url(#blob)" opacity="0.350" style="mix-blend-mode:plus-lighter"/>
<circle cx="90.80" cy="179.81" r="7.80" fill="url(#blob)" opacity="0.350" style="mix-blend-mode:plus-lighter"/>
<circle cx="95.55" cy="186.05" r="7.80" fill="url(#blob)" opacity="0.350" style="mix-blend-mode:plus-lighter"/>
<circle cx="100.30" cy="192.30" r="7.80" fill="url(#blob)" opacity="0.350" style="mix-blend-mode:plus-lighter"/>
</g></g>
<text x="45.8" y="191.2" fill="#fff" stroke="#fff" stroke-width="0.2" letter-spacing="0.7" font-size="11.0">f.</text>
<g filter="url(#inf)" clip-path="url(#c21)"><g style="isolation:isolate">
<rect x="146.9" y="113.15" width="85.5" height="85.1" fill="#000"/>
<circle cx="157.31" cy="122.05" r="5.85" fill="url(#blob)" opacity="0.370" style="mix-blend-mode:plus-lighter"/>
<circle cx="163.63" cy="126.75" r="5.85" fill="url(#blob)" opacity="0.370" style="mix-blend-mode:plus-lighter"/>
<circle cx="169.94" cy="131.46" r="5.85" fill="url(#blob)" opacity="0.370" style="mix-blend-mode:plus-lighter"/>
<circle cx="176.26" cy="136.16" r="5.85" fill="url(#blob)" opacity="0.370" style="mix-blend-mode:plus-lighter"/>
<circle cx="182.58" cy="140.87" r="5.85" fill="url(#blob)" opacity="0.370" style="mix-blend-mode:plus-lighter"/>
<circle cx="188.90" cy="145.57" r="5.85" fill="url(#blob)" opacity="0.370" style="mix-blend-mode:plus-lighter"/>
<circle cx="195.21" cy="150.28" r="5.85" fill="url(#blob)" opacity="0.370" style="mix-blend-mode:plus-lighter"/>
<circle cx="201.53" cy="154.98" r="5.85" fill="url(#blob)" opacity="0.370" style="mix-blend-mode:plus-lighter"/>
<circle cx="207.85" cy="159.69" r="5.85" fill="url(#blob)" opacity="0.370" style="mix-blend-mode:plus-lighter"/>
<circle cx="214.17" cy="164.39" r="5.85" fill="url(#blob)" opacity="0.370" style="mix-blend-mode:plus-lighter"/>
<circle cx="220.48" cy="169.10" r="5.85" fill="url(#blob)" opacity="0.370" style="mix-blend-mode:plus-lighter"/>
<circle cx="226.80" cy="173.80" r="5.85" fill="url(#blob)" opacity="0.370" style="mix-blend-mode:plus-lighter"/>
<circle cx="156.60" cy="122.80" r="5.85" fill="url(#blob)" opacity="0.370" style="mix-blend-mode:plus-lighter"/>
<circle cx="162.21" cy="128.25" r="5.85" fill="url(#blob)" opacity="0.370" style="mix-blend-mode:plus-lighter"/>
<circle cx="167.82" cy="133.71" r="5.85" fill="url(#blob)" opacity="0.370" style="mix-blend-mode:plus-lighter"/>
<circle cx="173.43" cy="139.16" r="5.85" fill="url(#blob)" opacity="0.370" style="mix-blend-mode:plus-lighter"/>
<circle cx="179.04" cy="144.62" r="5.85" fill="url(#blob)" opacity="0.370" style="mix-blend-mode:plus-lighter"/>
<circle cx="184.65" cy="150.07" r="5.85" fill="url(#blob)" opacity="0.370" style="mix-blend-mode:plus-lighter"/>
<circle cx="190.25" cy="155.53" r="5.85" fill="url(#blob)" opacity="0.370" style="mix-blend-mode:plus-lighter"/>
<circle cx="195.86" cy="160.98" r="5.85" fill="url(#blob)" opacity="0.370" style="mix-blend-mode:plus-lighter"/>
<circle cx="201.47" cy="166.44" r="5.85" fill="url(#blob)" opacity="0.370" style="mix-blend-mode:plus-lighter"/>
<circle cx="207.08" cy="171.89" r="5.85" fill="url(#blob)" opacity="0.370" style="mix-blend-mode:plus-lighter"/>
<circle cx="212.69" cy="177.35" r="5.85" fill="url(#blob)" opacity="0.370" style="mix-blend-mode:plus-lighter"/>
<circle cx="218.30" cy="182.80" r="5.85" fill="url(#blob)" opacity="0.370" style="mix-blend-mode:plus-lighter"/>
<circle cx="155.74" cy="123.59" r="5.85" fill="url(#blob)" opacity="0.370" style="mix-blend-mode:plus-lighter"/>
<circle cx="160.49" cy="129.84" r="5.85" fill="url(#blob)" opacity="0.370" style="mix-blend-mode:plus-lighter"/>
<circle cx="165.24" cy="136.08" r="5.85" fill="url(#blob)" opacity="0.370" style="mix-blend-mode:plus-lighter"/>
<circle cx="169.99" cy="142.33" r="5.85" fill="url(#blob)" opacity="0.370" style="mix-blend-mode:plus-lighter"/>
<circle cx="174.74" cy="148.58" r="5.85" fill="url(#blob)" opacity="0.370" style="mix-blend-mode:plus-lighter"/>
<circle cx="179.50" cy="154.82" r="5.85" fill="url(#blob)" opacity="0.370" style="mix-blend-mode:plus-lighter"/>
<circle cx="184.25" cy="161.07" r="5.85" fill="url(#blob)" opacity="0.370" style="mix-blend-mode:plus-lighter"/>
<circle cx="189.00" cy="167.32" r="5.85" fill="url(#blob)" opacity="0.370" style="mix-blend-mode:plus-lighter"/>
<circle cx="193.75" cy="173.56" r="5.85" fill="url(#blob)" opacity="0.370" style="mix-blend-mode:plus-lighter"/>
<circle cx="198.50" cy="179.81" r="5.85" fill="url(#blob)" opacity="0.370" style="mix-blend-mode:plus-lighter"/>
<circle cx="203.25" cy="186.05" r="5.85" fill="url(#blob)" opacity="0.370" style="mix-blend-mode:plus-lighter"/>
<circle cx="208.00" cy="192.30" r="5.85" fill="url(#blob)" opacity="0.370" style="mix-blend-mode:plus-lighter"/>
</g></g>
<text x="153.5" y="189.7" fill="#fff" stroke="#fff" stroke-width="0.2" letter-spacing="0.7" font-size="11.0">g.</text>
<g filter="url(#inf)" clip-path="url(#c22)"><g style="isolation:isolate">
<rect x="254.35000000000002" y="113.15" width="85.5" height="85.1" fill="#000"/>
<polygon points="262.7,117.5 339.4,174.1 315.8,197.5 258.7,121.5" fill="#fff" opacity="0.07" filter="url(#hz)" style="mix-blend-mode:plus-lighter"/>
<polygon points="262.7,117.5 339.4,174.1 315.8,197.5 258.7,121.5" fill="#fff" opacity="0.045" filter="url(#hz2)" style="mix-blend-mode:plus-lighter"/>
<circle cx="264.76" cy="122.05" r="2.34" fill="url(#blob)" opacity="0.500" style="mix-blend-mode:plus-lighter"/>
<circle cx="271.08" cy="126.75" r="2.34" fill="url(#blob)" opacity="0.520" style="mix-blend-mode:plus-lighter"/>
<circle cx="277.39" cy="131.46" r="2.34" fill="url(#blob)" opacity="0.524" style="mix-blend-mode:plus-lighter"/>
<circle cx="283.71" cy="136.16" r="2.34" fill="url(#blob)" opacity="0.552" style="mix-blend-mode:plus-lighter"/>
<circle cx="290.03" cy="140.87" r="2.34" fill="url(#blob)" opacity="0.578" style="mix-blend-mode:plus-lighter"/>
<circle cx="296.35" cy="145.57" r="2.34" fill="url(#blob)" opacity="0.534" style="mix-blend-mode:plus-lighter"/>
<circle cx="302.66" cy="150.28" r="2.34" fill="url(#blob)" opacity="0.530" style="mix-blend-mode:plus-lighter"/>
<circle cx="308.98" cy="154.98" r="2.34" fill="url(#blob)" opacity="0.487" style="mix-blend-mode:plus-lighter"/>
<circle cx="315.30" cy="159.69" r="2.34" fill="url(#blob)" opacity="0.507" style="mix-blend-mode:plus-lighter"/>
<circle cx="321.62" cy="164.39" r="2.34" fill="url(#blob)" opacity="0.530" style="mix-blend-mode:plus-lighter"/>
<circle cx="327.93" cy="169.10" r="2.34" fill="url(#blob)" opacity="0.548" style="mix-blend-mode:plus-lighter"/>
<circle cx="334.25" cy="173.80" r="2.34" fill="url(#blob)" opacity="0.560" style="mix-blend-mode:plus-lighter"/>
<circle cx="264.05" cy="122.80" r="2.34" fill="url(#blob)" opacity="0.500" style="mix-blend-mode:plus-lighter"/>
<circle cx="269.66" cy="128.25" r="2.34" fill="url(#blob)" opacity="0.520" style="mix-blend-mode:plus-lighter"/>
<circle cx="275.27" cy="133.71" r="2.34" fill="url(#blob)" opacity="0.509" style="mix-blend-mode:plus-lighter"/>
<circle cx="280.88" cy="139.16" r="2.34" fill="url(#blob)" opacity="0.571" style="mix-blend-mode:plus-lighter"/>
<circle cx="286.49" cy="144.62" r="2.34" fill="url(#blob)" opacity="0.501" style="mix-blend-mode:plus-lighter"/>
<circle cx="292.10" cy="150.07" r="2.34" fill="url(#blob)" opacity="0.525" style="mix-blend-mode:plus-lighter"/>
<circle cx="297.70" cy="155.53" r="2.34" fill="url(#blob)" opacity="0.573" style="mix-blend-mode:plus-lighter"/>
<circle cx="303.31" cy="160.98" r="2.34" fill="url(#blob)" opacity="0.482" style="mix-blend-mode:plus-lighter"/>
<circle cx="308.92" cy="166.44" r="2.34" fill="url(#blob)" opacity="0.540" style="mix-blend-mode:plus-lighter"/>
<circle cx="314.53" cy="171.89" r="2.34" fill="url(#blob)" opacity="0.575" style="mix-blend-mode:plus-lighter"/>
<circle cx="320.14" cy="177.35" r="2.34" fill="url(#blob)" opacity="0.503" style="mix-blend-mode:plus-lighter"/>
<circle cx="325.75" cy="182.80" r="2.34" fill="url(#blob)" opacity="0.535" style="mix-blend-mode:plus-lighter"/>
<circle cx="263.19" cy="123.59" r="2.34" fill="url(#blob)" opacity="0.500" style="mix-blend-mode:plus-lighter"/>
<circle cx="267.94" cy="129.84" r="2.34" fill="url(#blob)" opacity="0.520" style="mix-blend-mode:plus-lighter"/>
<circle cx="272.69" cy="136.08" r="2.34" fill="url(#blob)" opacity="0.532" style="mix-blend-mode:plus-lighter"/>
<circle cx="277.44" cy="142.33" r="2.34" fill="url(#blob)" opacity="0.555" style="mix-blend-mode:plus-lighter"/>
<circle cx="282.19" cy="148.58" r="2.34" fill="url(#blob)" opacity="0.547" style="mix-blend-mode:plus-lighter"/>
<circle cx="286.95" cy="154.82" r="2.34" fill="url(#blob)" opacity="0.527" style="mix-blend-mode:plus-lighter"/>
<circle cx="291.70" cy="161.07" r="2.34" fill="url(#blob)" opacity="0.500" style="mix-blend-mode:plus-lighter"/>
<circle cx="296.45" cy="167.32" r="2.34" fill="url(#blob)" opacity="0.529" style="mix-blend-mode:plus-lighter"/>
<circle cx="301.20" cy="173.56" r="2.34" fill="url(#blob)" opacity="0.517" style="mix-blend-mode:plus-lighter"/>
<circle cx="305.95" cy="179.81" r="2.34" fill="url(#blob)" opacity="0.528" style="mix-blend-mode:plus-lighter"/>
<circle cx="310.70" cy="186.05" r="2.34" fill="url(#blob)" opacity="0.517" style="mix-blend-mode:plus-lighter"/>
<circle cx="315.45" cy="192.30" r="2.34" fill="url(#blob)" opacity="0.564" style="mix-blend-mode:plus-lighter"/>
</g></g>
<text x="261.0" y="191.6" fill="#fff" stroke="#fff" stroke-width="0.2" letter-spacing="0.6" font-size="11.0">h.</text>
<g filter="url(#inf)" clip-path="url(#c23)"><g style="isolation:isolate">
<rect x="361.5" y="113.15" width="85.89999999999998" height="85.1" fill="#000"/>
<circle cx="371.91" cy="122.05" r="5.85" fill="url(#blob)" opacity="0.370" style="mix-blend-mode:plus-lighter"/>
<circle cx="378.23" cy="126.75" r="5.85" fill="url(#blob)" opacity="0.370" style="mix-blend-mode:plus-lighter"/>
<circle cx="384.54" cy="131.46" r="5.85" fill="url(#blob)" opacity="0.370" style="mix-blend-mode:plus-lighter"/>
<circle cx="390.86" cy="136.16" r="5.85" fill="url(#blob)" opacity="0.370" style="mix-blend-mode:plus-lighter"/>
<circle cx="397.18" cy="140.87" r="5.85" fill="url(#blob)" opacity="0.370" style="mix-blend-mode:plus-lighter"/>
<circle cx="403.50" cy="145.57" r="5.85" fill="url(#blob)" opacity="0.370" style="mix-blend-mode:plus-lighter"/>
<circle cx="409.81" cy="150.28" r="5.85" fill="url(#blob)" opacity="0.370" style="mix-blend-mode:plus-lighter"/>
<circle cx="416.13" cy="154.98" r="5.85" fill="url(#blob)" opacity="0.370" style="mix-blend-mode:plus-lighter"/>
<circle cx="422.45" cy="159.69" r="5.85" fill="url(#blob)" opacity="0.370" style="mix-blend-mode:plus-lighter"/>
<circle cx="428.77" cy="164.39" r="5.85" fill="url(#blob)" opacity="0.370" style="mix-blend-mode:plus-lighter"/>
<circle cx="435.08" cy="169.10" r="5.85" fill="url(#blob)" opacity="0.370" style="mix-blend-mode:plus-lighter"/>
<circle cx="441.40" cy="173.80" r="5.85" fill="url(#blob)" opacity="0.370" style="mix-blend-mode:plus-lighter"/>
<circle cx="371.20" cy="122.80" r="5.85" fill="url(#blob)" opacity="0.370" style="mix-blend-mode:plus-lighter"/>
<circle cx="376.81" cy="128.25" r="5.85" fill="url(#blob)" opacity="0.370" style="mix-blend-mode:plus-lighter"/>
<circle cx="382.42" cy="133.71" r="5.85" fill="url(#blob)" opacity="0.370" style="mix-blend-mode:plus-lighter"/>
<circle cx="388.03" cy="139.16" r="5.85" fill="url(#blob)" opacity="0.370" style="mix-blend-mode:plus-lighter"/>
<circle cx="393.64" cy="144.62" r="5.85" fill="url(#blob)" opacity="0.370" style="mix-blend-mode:plus-lighter"/>
<circle cx="399.25" cy="150.07" r="5.85" fill="url(#blob)" opacity="0.370" style="mix-blend-mode:plus-lighter"/>
<circle cx="404.85" cy="155.53" r="5.85" fill="url(#blob)" opacity="0.370" style="mix-blend-mode:plus-lighter"/>
<circle cx="410.46" cy="160.98" r="5.85" fill="url(#blob)" opacity="0.370" style="mix-blend-mode:plus-lighter"/>
<circle cx="416.07" cy="166.44" r="5.85" fill="url(#blob)" opacity="0.370" style="mix-blend-mode:plus-lighter"/>
<circle cx="421.68" cy="171.89" r="5.85" fill="url(#blob)" opacity="0.370" style="mix-blend-mode:plus-lighter"/>
<circle cx="427.29" cy="177.35" r="5.85" fill="url(#blob)" opacity="0.370" style="mix-blend-mode:plus-lighter"/>
<circle cx="432.90" cy="182.80" r="5.85" fill="url(#blob)" opacity="0.370" style="mix-blend-mode:plus-lighter"/>
<circle cx="370.34" cy="123.59" r="5.85" fill="url(#blob)" opacity="0.370" style="mix-blend-mode:plus-lighter"/>
<circle cx="375.09" cy="129.84" r="5.85" fill="url(#blob)" opacity="0.370" style="mix-blend-mode:plus-lighter"/>
<circle cx="379.84" cy="136.08" r="5.85" fill="url(#blob)" opacity="0.370" style="mix-blend-mode:plus-lighter"/>
<circle cx="384.59" cy="142.33" r="5.85" fill="url(#blob)" opacity="0.370" style="mix-blend-mode:plus-lighter"/>
<circle cx="389.34" cy="148.58" r="5.85" fill="url(#blob)" opacity="0.370" style="mix-blend-mode:plus-lighter"/>
<circle cx="394.10" cy="154.82" r="5.85" fill="url(#blob)" opacity="0.370" style="mix-blend-mode:plus-lighter"/>
<circle cx="398.85" cy="161.07" r="5.85" fill="url(#blob)" opacity="0.370" style="mix-blend-mode:plus-lighter"/>
<circle cx="403.60" cy="167.32" r="5.85" fill="url(#blob)" opacity="0.370" style="mix-blend-mode:plus-lighter"/>
<circle cx="408.35" cy="173.56" r="5.85" fill="url(#blob)" opacity="0.370" style="mix-blend-mode:plus-lighter"/>
<circle cx="413.10" cy="179.81" r="5.85" fill="url(#blob)" opacity="0.370" style="mix-blend-mode:plus-lighter"/>
<circle cx="417.85" cy="186.05" r="5.85" fill="url(#blob)" opacity="0.370" style="mix-blend-mode:plus-lighter"/>
<circle cx="422.60" cy="192.30" r="5.85" fill="url(#blob)" opacity="0.370" style="mix-blend-mode:plus-lighter"/>
</g></g>
<text x="368.1" y="191.5" fill="#fff" stroke="#fff" stroke-width="0.2" letter-spacing="0.8999999999999999" font-size="11.0">i.</text>
<g filter="url(#inf)" clip-path="url(#c24)"><g style="isolation:isolate">
<rect x="469.2" y="113.15" width="85.30000000000001" height="85.1" fill="#000"/>
<polygon points="477.5,117.5 554.3,174.1 530.6,197.5 473.5,121.5" fill="#fff" opacity="0.06" filter="url(#hz)" style="mix-blend-mode:plus-lighter"/>
<circle cx="479.61" cy="122.05" r="1.50" fill="url(#blob)" opacity="0.300" style="mix-blend-mode:plus-lighter"/>
<circle cx="485.93" cy="126.75" r="1.50" fill="url(#blob)" opacity="0.688" style="mix-blend-mode:plus-lighter"/>
<circle cx="492.24" cy="131.46" r="1.50" fill="url(#blob)" opacity="0.871" style="mix-blend-mode:plus-lighter"/>
<circle cx="498.56" cy="136.16" r="1.50" fill="url(#blob)" opacity="0.665" style="mix-blend-mode:plus-lighter"/>
<circle cx="504.88" cy="140.87" r="1.50" fill="url(#blob)" opacity="0.481" style="mix-blend-mode:plus-lighter"/>
<circle cx="511.20" cy="145.57" r="1.50" fill="url(#blob)" opacity="0.413" style="mix-blend-mode:plus-lighter"/>
<circle cx="517.51" cy="150.28" r="1.50" fill="url(#blob)" opacity="0.639" style="mix-blend-mode:plus-lighter"/>
<circle cx="523.83" cy="154.98" r="1.50" fill="url(#blob)" opacity="0.424" style="mix-blend-mode:plus-lighter"/>
<circle cx="530.15" cy="159.69" r="1.50" fill="url(#blob)" opacity="0.485" style="mix-blend-mode:plus-lighter"/>
<circle cx="536.47" cy="164.39" r="1.50" fill="url(#blob)" opacity="0.691" style="mix-blend-mode:plus-lighter"/>
<circle cx="542.78" cy="169.10" r="1.50" fill="url(#blob)" opacity="0.453" style="mix-blend-mode:plus-lighter"/>
<circle cx="549.10" cy="173.80" r="1.50" fill="url(#blob)" opacity="0.860" style="mix-blend-mode:plus-lighter"/>
<circle cx="478.90" cy="122.80" r="1.50" fill="url(#blob)" opacity="0.300" style="mix-blend-mode:plus-lighter"/>
<circle cx="484.51" cy="128.25" r="1.50" fill="url(#blob)" opacity="1.000" style="mix-blend-mode:plus-lighter"/>
<circle cx="490.12" cy="133.71" r="1.50" fill="url(#blob)" opacity="0.759" style="mix-blend-mode:plus-lighter"/>
<circle cx="495.73" cy="139.16" r="1.50" fill="url(#blob)" opacity="0.762" style="mix-blend-mode:plus-lighter"/>
<circle cx="501.34" cy="144.62" r="1.50" fill="url(#blob)" opacity="0.620" style="mix-blend-mode:plus-lighter"/>
<circle cx="506.95" cy="150.07" r="1.50" fill="url(#blob)" opacity="0.532" style="mix-blend-mode:plus-lighter"/>
<circle cx="512.55" cy="155.53" r="1.50" fill="url(#blob)" opacity="0.454" style="mix-blend-mode:plus-lighter"/>
<circle cx="518.16" cy="160.98" r="1.50" fill="url(#blob)" opacity="0.250" style="mix-blend-mode:plus-lighter"/>
<circle cx="523.77" cy="166.44" r="1.50" fill="url(#blob)" opacity="0.275" style="mix-blend-mode:plus-lighter"/>
<circle cx="529.38" cy="171.89" r="1.50" fill="url(#blob)" opacity="0.683" style="mix-blend-mode:plus-lighter"/>
<circle cx="534.99" cy="177.35" r="1.50" fill="url(#blob)" opacity="0.534" style="mix-blend-mode:plus-lighter"/>
<circle cx="540.60" cy="182.80" r="1.50" fill="url(#blob)" opacity="0.672" style="mix-blend-mode:plus-lighter"/>
<circle cx="478.04" cy="123.59" r="1.50" fill="url(#blob)" opacity="0.300" style="mix-blend-mode:plus-lighter"/>
<circle cx="482.79" cy="129.84" r="1.50" fill="url(#blob)" opacity="0.960" style="mix-blend-mode:plus-lighter"/>
<circle cx="487.54" cy="136.08" r="1.50" fill="url(#blob)" opacity="0.561" style="mix-blend-mode:plus-lighter"/>
<circle cx="492.29" cy="142.33" r="1.50" fill="url(#blob)" opacity="0.685" style="mix-blend-mode:plus-lighter"/>
<circle cx="497.04" cy="148.58" r="1.50" fill="url(#blob)" opacity="0.586" style="mix-blend-mode:plus-lighter"/>
<circle cx="501.80" cy="154.82" r="1.50" fill="url(#blob)" opacity="0.342" style="mix-blend-mode:plus-lighter"/>
<circle cx="506.55" cy="161.07" r="1.50" fill="url(#blob)" opacity="0.916" style="mix-blend-mode:plus-lighter"/>
<circle cx="511.30" cy="167.32" r="1.50" fill="url(#blob)" opacity="0.897" style="mix-blend-mode:plus-lighter"/>
<circle cx="516.05" cy="173.56" r="1.50" fill="url(#blob)" opacity="0.806" style="mix-blend-mode:plus-lighter"/>
<circle cx="520.80" cy="179.81" r="1.50" fill="url(#blob)" opacity="0.495" style="mix-blend-mode:plus-lighter"/>
<circle cx="525.55" cy="186.05" r="1.50" fill="url(#blob)" opacity="0.800" style="mix-blend-mode:plus-lighter"/>
<circle cx="530.30" cy="192.30" r="1.50" fill="url(#blob)" opacity="0.291" style="mix-blend-mode:plus-lighter"/>
</g></g>
<text x="475.8" y="189.4" fill="#fff" stroke="#fff" stroke-width="0.2" letter-spacing="1.6" font-size="11.0">j.</text>
<line x1="84.1" y1="127.3" x2="119.2" y2="127.3" stroke="#fff" stroke-width="1.1"/>
<text x="101.8" y="124.2" text-anchor="middle" fill="#fff" font-weight="bold" font-size="8.6" stroke="#fff" stroke-width="0.15">1µm</text>
<text x="152.0" y="214.7" font-size="12.2" letter-spacing="0.9" stroke="#000" stroke-width="0.2">k.</text>
<rect x="199.1" y="214.7" width="197.6" height="92.69999999999999" fill="#fff"/>
<rect x="199.10" y="223.13" width="158.73" height="84.27" fill="url(#frfill)"/>
<path d="M199.10,307.40 L199.10,223.13 L200.23,223.18 L201.36,223.34 L202.48,223.60 L203.61,223.96 L204.74,224.42 L205.87,224.99 L207.00,225.65 L208.12,226.41 L209.25,227.26 L210.38,228.20 L211.51,229.22 L212.64,230.33 L213.76,231.52 L214.89,232.79 L216.02,234.13 L217.15,235.53 L218.28,237.00 L219.40,238.52 L220.53,240.10 L221.66,241.72 L222.79,243.39 L223.92,245.10 L225.04,246.83 L226.17,248.60 L227.30,250.39 L228.43,252.20 L229.56,254.02 L230.68,255.85 L231.81,257.68 L232.94,259.52 L234.07,261.34 L235.20,263.16 L236.32,264.96 L237.45,266.75 L238.58,268.51 L239.71,270.25 L240.84,271.96 L241.96,273.64 L243.09,275.29 L244.22,276.90 L245.35,278.47 L246.48,280.00 L247.60,281.49 L248.73,282.93 L249.86,284.33 L250.99,285.67 L252.12,286.98 L253.24,288.23 L254.37,289.44 L255.50,290.59 L256.62,291.70 L257.74,292.75 L258.87,293.76 L259.99,294.72 L261.11,295.63 L262.23,296.50 L263.35,297.32 L264.48,298.09 L265.60,298.82 L266.72,299.50 L267.84,300.15 L268.96,300.75 L270.09,301.32 L271.21,301.84 L272.33,302.33 L273.45,302.79 L274.57,303.22 L275.70,303.61 L276.82,303.97 L277.94,304.31 L279.06,304.61 L280.18,304.90 L281.31,305.16 L282.43,305.39 L283.55,305.61 L284.67,305.81 L285.79,305.98 L286.92,306.15 L288.04,306.29 L289.16,306.42 L290.28,306.54 L291.40,306.65 L292.53,306.74 L293.65,306.83 L294.77,306.90 L295.89,306.97 L297.01,307.03 L298.14,307.08 L299.26,307.13 L300.38,307.16 L301.50,307.20 L302.62,307.23 L303.75,307.26 L304.87,307.28 L305.99,307.30 L307.11,307.32 L308.23,307.33 L309.36,307.34 L310.48,307.35 L311.60,307.36 L312.71,307.37 L313.83,307.37 L314.94,307.38 L316.06,307.38 L317.17,307.39 L318.28,307.39 L319.40,307.39 L320.51,307.39 L321.63,307.40 L322.74,307.40 L323.85,307.40 L324.97,307.40 L326.08,307.40 L327.20,307.40 L328.31,307.40 L329.42,307.40 L330.54,307.40 L331.65,307.40 L332.77,307.40 L333.88,307.40 L334.99,307.40 L336.11,307.40 L337.22,307.40 L338.34,307.40 L339.45,307.40 L340.56,307.40 L341.68,307.40 L342.79,307.40 L343.91,307.40 L345.02,307.40 L346.13,307.40 L347.25,307.40 L348.36,307.40 L349.48,307.40 L350.59,307.40 L351.70,307.40 L352.82,307.40 L353.93,307.40 L355.05,307.40 L356.16,307.40 L357.27,307.40 L358.39,307.40 L359.50,307.40 L360.62,307.40 L361.73,307.40 L362.84,307.40 L363.96,307.40 L365.07,307.40 L366.19,307.40 L367.30,307.40 L368.42,307.40 L369.54,307.40 L370.65,307.40 L371.77,307.40 L372.89,307.40 L374.01,307.40 L375.13,307.40 L376.24,307.40 L377.36,307.40 L378.48,307.40 L379.60,307.40 L380.71,307.40 L381.83,307.40 L382.95,307.40 L384.07,307.40 L385.19,307.40 L386.30,307.40 L387.42,307.40 L388.54,307.40 L389.66,307.40 L390.78,307.40 L391.89,307.40 L393.01,307.40 L394.13,307.40 L395.25,307.40 L396.36,307.40 L396.70,307.40 L396.70,307.40 Z" fill="#cfcfd6" fill-opacity="0.85"/>
<path d="M199.10,307.40 L199.10,223.13 L200.23,223.24 L201.36,223.56 L202.48,224.10 L203.61,224.82 L204.74,225.73 L205.87,226.82 L207.00,228.07 L208.12,229.48 L209.25,231.03 L210.38,232.71 L211.51,234.52 L212.64,236.44 L213.76,238.47 L214.89,240.59 L216.02,242.80 L217.15,245.08 L218.28,247.42 L219.40,249.82 L220.53,252.26 L221.66,254.73 L222.79,257.23 L223.92,259.74 L225.04,262.26 L226.17,264.77 L227.30,267.26 L228.43,269.72 L229.56,272.15 L230.68,274.53 L231.81,276.86 L232.94,279.11 L234.07,281.29 L235.20,283.38 L236.32,285.38 L237.45,287.26 L238.58,289.04 L239.71,290.71 L240.84,292.27 L241.96,293.73 L243.09,295.10 L244.22,296.37 L245.35,297.55 L246.48,298.64 L247.60,299.65 L248.73,300.58 L249.86,301.43 L250.99,302.21 L252.12,302.92 L253.24,303.56 L254.37,304.13 L255.50,304.65 L256.62,305.11 L257.74,305.51 L258.87,305.86 L259.99,306.17 L261.11,306.43 L262.23,306.65 L263.35,306.84 L264.48,306.99 L265.60,307.11 L266.72,307.21 L267.84,307.28 L268.96,307.33 L270.09,307.36 L271.21,307.38 L272.33,307.40 L273.45,307.40 L274.57,307.40 L275.70,307.40 L276.82,307.40 L277.94,307.40 L279.06,307.40 L280.18,307.40 L281.31,307.40 L282.43,307.40 L283.55,307.40 L284.67,307.40 L285.79,307.40 L286.92,307.40 L288.04,307.40 L289.16,307.40 L290.28,307.40 L291.40,307.40 L292.53,307.40 L293.65,307.40 L294.77,307.40 L295.89,307.40 L297.01,307.40 L298.14,307.40 L299.26,307.40 L300.38,307.40 L301.50,307.40 L302.62,307.40 L303.75,307.40 L304.87,307.40 L305.99,307.40 L307.11,307.40 L308.23,307.40 L309.36,307.40 L310.48,307.40 L311.60,307.40 L312.71,307.40 L313.83,307.40 L314.94,307.40 L316.06,307.40 L317.17,307.40 L318.28,307.40 L319.40,307.40 L320.51,307.40 L321.63,307.40 L322.74,307.40 L323.85,307.40 L324.97,307.40 L326.08,307.40 L327.20,307.40 L328.31,307.40 L329.42,307.40 L330.54,307.40 L331.65,307.40 L332.77,307.40 L333.88,307.40 L334.99,307.40 L336.11,307.40 L337.22,307.40 L338.34,307.40 L339.45,307.40 L340.56,307.40 L341.68,307.40 L342.79,307.40 L343.91,307.40 L345.02,307.40 L346.13,307.40 L347.25,307.40 L348.36,307.40 L349.48,307.40 L350.59,307.40 L351.70,307.40 L352.82,307.40 L353.93,307.40 L355.05,307.40 L356.16,307.40 L357.27,307.40 L358.39,307.40 L359.50,307.40 L360.62,307.40 L361.73,307.40 L362.84,307.40 L363.96,307.40 L365.07,307.40 L366.19,307.40 L367.30,307.40 L368.42,307.40 L369.54,307.40 L370.65,307.40 L371.77,307.40 L372.89,307.40 L374.01,307.40 L375.13,307.40 L376.24,307.40 L377.36,307.40 L378.48,307.40 L379.60,307.40 L380.71,307.40 L381.83,307.40 L382.95,307.40 L384.07,307.40 L385.19,307.40 L386.30,307.40 L387.42,307.40 L388.54,307.40 L389.66,307.40 L390.78,307.40 L391.89,307.40 L393.01,307.40 L394.13,307.40 L395.25,307.40 L396.36,307.40 L396.70,307.40 L396.70,307.40 Z" fill="#c9c9c9" fill-opacity="0.9"/>
<path d="M199.10,307.40 L199.10,223.13 L200.23,225.64 L201.36,228.16 L202.48,230.67 L203.61,233.19 L204.74,235.71 L205.87,238.22 L207.00,240.74 L208.12,243.25 L209.25,245.77 L210.38,248.28 L211.51,250.80 L212.64,253.31 L213.76,255.83 L214.89,258.35 L216.02,260.86 L217.15,263.38 L218.28,265.89 L219.40,268.41 L220.53,270.92 L221.66,273.44 L222.79,275.95 L223.92,278.47 L225.04,280.99 L226.17,283.50 L227.30,286.02 L228.43,288.53 L229.56,291.05 L230.68,293.56 L231.81,296.08 L232.94,298.60 L234.07,301.11 L235.20,303.63 L236.32,306.14 L237.45,307.40 L238.58,307.40 L239.71,307.40 L240.84,307.40 L241.96,307.40 L243.09,307.40 L244.22,307.40 L245.35,307.40 L246.48,307.40 L247.60,307.40 L248.73,307.40 L249.86,307.40 L250.99,307.40 L252.12,307.40 L253.24,307.40 L254.37,307.40 L255.50,307.40 L256.62,307.40 L257.74,307.40 L258.87,307.40 L259.99,307.40 L261.11,307.40 L262.23,307.40 L263.35,307.40 L264.48,307.40 L265.60,307.40 L266.72,307.40 L267.84,307.40 L268.96,307.40 L270.09,307.40 L271.21,307.40 L272.33,307.40 L273.45,307.40 L274.57,307.40 L275.70,307.40 L276.82,307.40 L277.94,307.40 L279.06,307.40 L280.18,307.40 L281.31,307.40 L282.43,307.40 L283.55,307.40 L284.67,307.40 L285.79,307.40 L286.92,307.40 L288.04,307.40 L289.16,307.40 L290.28,307.40 L291.40,307.40 L292.53,307.40 L293.65,307.40 L294.77,307.40 L295.89,307.40 L297.01,307.40 L298.14,307.40 L299.26,307.40 L300.38,307.40 L301.50,307.40 L302.62,307.40 L303.75,307.40 L304.87,307.40 L305.99,307.40 L307.11,307.40 L308.23,307.40 L309.36,307.40 L310.48,307.40 L311.60,307.40 L312.71,307.40 L313.83,307.40 L314.94,307.40 L316.06,307.40 L317.17,307.40 L318.28,307.40 L319.40,307.40 L320.51,307.40 L321.63,307.40 L322.74,307.40 L323.85,307.40 L324.97,307.40 L326.08,307.40 L327.20,307.40 L328.31,307.40 L329.42,307.40 L330.54,307.40 L331.65,307.40 L332.77,307.40 L333.88,307.40 L334.99,307.40 L336.11,307.40 L337.22,307.40 L338.34,307.40 L339.45,307.40 L340.56,307.40 L341.68,307.40 L342.79,307.40 L343.91,307.40 L345.02,307.40 L346.13,307.40 L347.25,307.40 L348.36,307.40 L349.48,307.40 L350.59,307.40 L351.70,307.40 L352.82,307.40 L353.93,307.40 L355.05,307.40 L356.16,307.40 L357.27,307.40 L358.39,307.40 L359.50,307.40 L360.62,307.40 L361.73,307.40 L362.84,307.40 L363.96,307.40 L365.07,307.40 L366.19,307.40 L367.30,307.40 L368.42,307.40 L369.54,307.40 L370.65,307.40 L371.77,307.40 L372.89,307.40 L374.01,307.40 L375.13,307.40 L376.24,307.40 L377.36,307.40 L378.48,307.40 L379.60,307.40 L380.71,307.40 L381.83,307.40 L382.95,307.40 L384.07,307.40 L385.19,307.40 L386.30,307.40 L387.42,307.40 L388.54,307.40 L389.66,307.40 L390.78,307.40 L391.89,307.40 L393.01,307.40 L394.13,307.40 L395.25,307.40 L396.36,307.40 L396.70,307.40 L396.70,307.40 Z" fill="#bdbdbd" fill-opacity="1"/>
<line x1="255.50" y1="214.7" x2="255.50" y2="307.4" stroke="#000" stroke-opacity="0.17" stroke-width="0.6"/>
<line x1="311.60" y1="214.7" x2="311.60" y2="307.4" stroke="#000" stroke-opacity="0.17" stroke-width="0.6"/>
<line x1="367.30" y1="214.7" x2="367.30" y2="307.4" stroke="#000" stroke-opacity="0.17" stroke-width="0.6"/>
<line x1="199.1" y1="265.26" x2="396.7" y2="265.26" stroke="#000" stroke-opacity="0.17" stroke-width="0.6"/>
<line x1="199.1" y1="223.13" x2="396.7" y2="223.13" stroke="#000" stroke-opacity="0.17" stroke-width="0.6"/>
<rect x="199.1" y="214.7" width="197.6" height="92.69999999999999" fill="none" stroke="#262626" stroke-width="0.7"/>
<clipPath id="axc"><rect x="199.1" y="214.7" width="197.6" height="93.99999999999999"/></clipPath>
<g clip-path="url(#axc)">
<path d="M199.10,223.13 L200.23,225.64 L201.36,228.16 L202.48,230.67 L203.61,233.19 L204.74,235.71 L205.87,238.22 L207.00,240.74 L208.12,243.25 L209.25,245.77 L210.38,248.28 L211.51,250.80 L212.64,253.31 L213.76,255.83 L214.89,258.35 L216.02,260.86 L217.15,263.38 L218.28,265.89 L219.40,268.41 L220.53,270.92 L221.66,273.44 L222.79,275.95 L223.92,278.47 L225.04,280.99 L226.17,283.50 L227.30,286.02 L228.43,288.53 L229.56,291.05 L230.68,293.56 L231.81,296.08 L232.94,298.60 L234.07,301.11 L235.20,303.63 L236.32,306.14 L237.45,307.40 L238.58,307.40 L239.71,307.40 L240.84,307.40 L241.96,307.40 L243.09,307.40 L244.22,307.40 L245.35,307.40 L246.48,307.40 L247.60,307.40 L248.73,307.40 L249.86,307.40 L250.99,307.40 L252.12,307.40 L253.24,307.40 L254.37,307.40 L255.50,307.40 L256.62,307.40 L257.74,307.40 L258.87,307.40 L259.99,307.40 L261.11,307.40 L262.23,307.40 L263.35,307.40 L264.48,307.40 L265.60,307.40 L266.72,307.40 L267.84,307.40 L268.96,307.40 L270.09,307.40 L271.21,307.40 L272.33,307.40 L273.45,307.40 L274.57,307.40 L275.70,307.40 L276.82,307.40 L277.94,307.40 L279.06,307.40 L280.18,307.40 L281.31,307.40 L282.43,307.40 L283.55,307.40 L284.67,307.40 L285.79,307.40 L286.92,307.40 L288.04,307.40 L289.16,307.40 L290.28,307.40 L291.40,307.40 L292.53,307.40 L293.65,307.40 L294.77,307.40 L295.89,307.40 L297.01,307.40 L298.14,307.40 L299.26,307.40 L300.38,307.40 L301.50,307.40 L302.62,307.40 L303.75,307.40 L304.87,307.40 L305.99,307.40 L307.11,307.40 L308.23,307.40 L309.36,307.40 L310.48,307.40 L311.60,307.40 L312.71,307.40 L313.83,307.40 L314.94,307.40 L316.06,307.40 L317.17,307.40 L318.28,307.40 L319.40,307.40 L320.51,307.40 L321.63,307.40 L322.74,307.40 L323.85,307.40 L324.97,307.40 L326.08,307.40 L327.20,307.40 L328.31,307.40 L329.42,307.40 L330.54,307.40 L331.65,307.40 L332.77,307.40 L333.88,307.40 L334.99,307.40 L336.11,307.40 L337.22,307.40 L338.34,307.40 L339.45,307.40 L340.56,307.40 L341.68,307.40 L342.79,307.40 L343.91,307.40 L345.02,307.40 L346.13,307.40 L347.25,307.40 L348.36,307.40 L349.48,307.40 L350.59,307.40 L351.70,307.40 L352.82,307.40 L353.93,307.40 L355.05,307.40 L356.16,307.40 L357.27,307.40 L358.39,307.40 L359.50,307.40 L360.62,307.40 L361.73,307.40 L362.84,307.40 L363.96,307.40 L365.07,307.40 L366.19,307.40 L367.30,307.40 L368.42,307.40 L369.54,307.40 L370.65,307.40 L371.77,307.40 L372.89,307.40 L374.01,307.40 L375.13,307.40 L376.24,307.40 L377.36,307.40 L378.48,307.40 L379.60,307.40 L380.71,307.40 L381.83,307.40 L382.95,307.40 L384.07,307.40 L385.19,307.40 L386.30,307.40 L387.42,307.40 L388.54,307.40 L389.66,307.40 L390.78,307.40 L391.89,307.40 L393.01,307.40 L394.13,307.40 L395.25,307.40 L396.36,307.40 L396.70,307.40" fill="none" stroke="#0072bd" stroke-width="2.0" stroke-linejoin="round"/>
<path d="M199.10,223.13 L200.23,223.24 L201.36,223.56 L202.48,224.10 L203.61,224.82 L204.74,225.73 L205.87,226.82 L207.00,228.07 L208.12,229.48 L209.25,231.03 L210.38,232.71 L211.51,234.52 L212.64,236.44 L213.76,238.47 L214.89,240.59 L216.02,242.80 L217.15,245.08 L218.28,247.42 L219.40,249.82 L220.53,252.26 L221.66,254.73 L222.79,257.23 L223.92,259.74 L225.04,262.26 L226.17,264.77 L227.30,267.26 L228.43,269.72 L229.56,272.15 L230.68,274.53 L231.81,276.86 L232.94,279.11 L234.07,281.29 L235.20,283.38 L236.32,285.38 L237.45,287.26 L238.58,289.04 L239.71,290.71 L240.84,292.27 L241.96,293.73 L243.09,295.10 L244.22,296.37 L245.35,297.55 L246.48,298.64 L247.60,299.65 L248.73,300.58 L249.86,301.43 L250.99,302.21 L252.12,302.92 L253.24,303.56 L254.37,304.13 L255.50,304.65 L256.62,305.11 L257.74,305.51 L258.87,305.86 L259.99,306.17 L261.11,306.43 L262.23,306.65 L263.35,306.84 L264.48,306.99 L265.60,307.11 L266.72,307.21 L267.84,307.28 L268.96,307.33 L270.09,307.36 L271.21,307.38 L272.33,307.40 L273.45,307.40 L274.57,307.40 L275.70,307.40 L276.82,307.40 L277.94,307.40 L279.06,307.40 L280.18,307.40 L281.31,307.40 L282.43,307.40 L283.55,307.40 L284.67,307.40 L285.79,307.40 L286.92,307.40 L288.04,307.40 L289.16,307.40 L290.28,307.40 L291.40,307.40 L292.53,307.40 L293.65,307.40 L294.77,307.40 L295.89,307.40 L297.01,307.40 L298.14,307.40 L299.26,307.40 L300.38,307.40 L301.50,307.40 L302.62,307.40 L303.75,307.40 L304.87,307.40 L305.99,307.40 L307.11,307.40 L308.23,307.40 L309.36,307.40 L310.48,307.40 L311.60,307.40 L312.71,307.40 L313.83,307.40 L314.94,307.40 L316.06,307.40 L317.17,307.40 L318.28,307.40 L319.40,307.40 L320.51,307.40 L321.63,307.40 L322.74,307.40 L323.85,307.40 L324.97,307.40 L326.08,307.40 L327.20,307.40 L328.31,307.40 L329.42,307.40 L330.54,307.40 L331.65,307.40 L332.77,307.40 L333.88,307.40 L334.99,307.40 L336.11,307.40 L337.22,307.40 L338.34,307.40 L339.45,307.40 L340.56,307.40 L341.68,307.40 L342.79,307.40 L343.91,307.40 L345.02,307.40 L346.13,307.40 L347.25,307.40 L348.36,307.40 L349.48,307.40 L350.59,307.40 L351.70,307.40 L352.82,307.40 L353.93,307.40 L355.05,307.40 L356.16,307.40 L357.27,307.40 L358.39,307.40 L359.50,307.40 L360.62,307.40 L361.73,307.40 L362.84,307.40 L363.96,307.40 L365.07,307.40 L366.19,307.40 L367.30,307.40 L368.42,307.40 L369.54,307.40 L370.65,307.40 L371.77,307.40 L372.89,307.40 L374.01,307.40 L375.13,307.40 L376.24,307.40 L377.36,307.40 L378.48,307.40 L379.60,307.40 L380.71,307.40 L381.83,307.40 L382.95,307.40 L384.07,307.40 L385.19,307.40 L386.30,307.40 L387.42,307.40 L388.54,307.40 L389.66,307.40 L390.78,307.40 L391.89,307.40 L393.01,307.40 L394.13,307.40 L395.25,307.40 L396.36,307.40 L396.70,307.40" fill="none" stroke="#d95319" stroke-width="2.0" stroke-linejoin="round"/>
<path d="M199.10,223.13 L200.23,223.18 L201.36,223.34 L202.48,223.60 L203.61,223.96 L204.74,224.42 L205.87,224.99 L207.00,225.65 L208.12,226.41 L209.25,227.26 L210.38,228.20 L211.51,229.22 L212.64,230.33 L213.76,231.52 L214.89,232.79 L216.02,234.13 L217.15,235.53 L218.28,237.00 L219.40,238.52 L220.53,240.10 L221.66,241.72 L222.79,243.39 L223.92,245.10 L225.04,246.83 L226.17,248.60 L227.30,250.39 L228.43,252.20 L229.56,254.02 L230.68,255.85 L231.81,257.68 L232.94,259.52 L234.07,261.34 L235.20,263.16 L236.32,264.96 L237.45,266.75 L238.58,268.51 L239.71,270.25 L240.84,271.96 L241.96,273.64 L243.09,275.29 L244.22,276.90 L245.35,278.47 L246.48,280.00 L247.60,281.49 L248.73,282.93 L249.86,284.33 L250.99,285.67 L252.12,286.98 L253.24,288.23 L254.37,289.44 L255.50,290.59 L256.62,291.70 L257.74,292.75 L258.87,293.76 L259.99,294.72 L261.11,295.63 L262.23,296.50 L263.35,297.32 L264.48,298.09 L265.60,298.82 L266.72,299.50 L267.84,300.15 L268.96,300.75 L270.09,301.32 L271.21,301.84 L272.33,302.33 L273.45,302.79 L274.57,303.22 L275.70,303.61 L276.82,303.97 L277.94,304.31 L279.06,304.61 L280.18,304.90 L281.31,305.16 L282.43,305.39 L283.55,305.61 L284.67,305.81 L285.79,305.98 L286.92,306.15 L288.04,306.29 L289.16,306.42 L290.28,306.54 L291.40,306.65 L292.53,306.74 L293.65,306.83 L294.77,306.90 L295.89,306.97 L297.01,307.03 L298.14,307.08 L299.26,307.13 L300.38,307.16 L301.50,307.20 L302.62,307.23 L303.75,307.26 L304.87,307.28 L305.99,307.30 L307.11,307.32 L308.23,307.33 L309.36,307.34 L310.48,307.35 L311.60,307.36 L312.71,307.37 L313.83,307.37 L314.94,307.38 L316.06,307.38 L317.17,307.39 L318.28,307.39 L319.40,307.39 L320.51,307.39 L321.63,307.40 L322.74,307.40 L323.85,307.40 L324.97,307.40 L326.08,307.40 L327.20,307.40 L328.31,307.40 L329.42,307.40 L330.54,307.40 L331.65,307.40 L332.77,307.40 L333.88,307.40 L334.99,307.40 L336.11,307.40 L337.22,307.40 L338.34,307.40 L339.45,307.40 L340.56,307.40 L341.68,307.40 L342.79,307.40 L343.91,307.40 L345.02,307.40 L346.13,307.40 L347.25,307.40 L348.36,307.40 L349.48,307.40 L350.59,307.40 L351.70,307.40 L352.82,307.40 L353.93,307.40 L355.05,307.40 L356.16,307.40 L357.27,307.40 L358.39,307.40 L359.50,307.40 L360.62,307.40 L361.73,307.40 L362.84,307.40 L363.96,307.40 L365.07,307.40 L366.19,307.40 L367.30,307.40 L368.42,307.40 L369.54,307.40 L370.65,307.40 L371.77,307.40 L372.89,307.40 L374.01,307.40 L375.13,307.40 L376.24,307.40 L377.36,307.40 L378.48,307.40 L379.60,307.40 L380.71,307.40 L381.83,307.40 L382.95,307.40 L384.07,307.40 L385.19,307.40 L386.30,307.40 L387.42,307.40 L388.54,307.40 L389.66,307.40 L390.78,307.40 L391.89,307.40 L393.01,307.40 L394.13,307.40 L395.25,307.40 L396.36,307.40 L396.70,307.40" fill="none" stroke="#edb120" stroke-width="2.0" stroke-linejoin="round"/>
<path d="M199.10,223.13 L357.83,223.13 L357.83,307.40 L396.70,307.40" fill="none" stroke="#0072bd" stroke-width="2.0" stroke-dasharray="5.4 3.4"/>
</g>
<line x1="199.10" y1="307.4" x2="199.10" y2="305.4" stroke="#262626" stroke-width="0.6"/>
<line x1="199.10" y1="214.7" x2="199.10" y2="216.7" stroke="#262626" stroke-width="0.6"/>
<text x="199.70" y="321.30" text-anchor="middle" font-size="9.1" fill="#1a1a1a">0</text>
<line x1="255.50" y1="307.4" x2="255.50" y2="305.4" stroke="#262626" stroke-width="0.6"/>
<line x1="255.50" y1="214.7" x2="255.50" y2="216.7" stroke="#262626" stroke-width="0.6"/>
<text x="256.90" y="321.30" text-anchor="middle" font-size="9.1" fill="#1a1a1a">50</text>
<line x1="311.60" y1="307.4" x2="311.60" y2="305.4" stroke="#262626" stroke-width="0.6"/>
<line x1="311.60" y1="214.7" x2="311.60" y2="216.7" stroke="#262626" stroke-width="0.6"/>
<text x="313.00" y="321.30" text-anchor="middle" font-size="9.1" fill="#1a1a1a">100</text>
<line x1="367.30" y1="307.4" x2="367.30" y2="305.4" stroke="#262626" stroke-width="0.6"/>
<line x1="367.30" y1="214.7" x2="367.30" y2="216.7" stroke="#262626" stroke-width="0.6"/>
<text x="368.70" y="321.30" text-anchor="middle" font-size="9.1" fill="#1a1a1a">150</text>
<line x1="199.1" y1="307.40" x2="201.1" y2="307.40" stroke="#262626" stroke-width="0.6"/>
<line x1="396.7" y1="307.40" x2="394.7" y2="307.40" stroke="#262626" stroke-width="0.6"/>
<text x="196.30" y="311.70" text-anchor="end" font-size="9.1" fill="#1a1a1a">0</text>
<line x1="199.1" y1="265.26" x2="201.1" y2="265.26" stroke="#262626" stroke-width="0.6"/>
<line x1="396.7" y1="265.26" x2="394.7" y2="265.26" stroke="#262626" stroke-width="0.6"/>
<text x="196.30" y="268.86" text-anchor="end" font-size="9.1" fill="#1a1a1a">0.5</text>
<line x1="199.1" y1="223.13" x2="201.1" y2="223.13" stroke="#262626" stroke-width="0.6"/>
<line x1="396.7" y1="223.13" x2="394.7" y2="223.13" stroke="#262626" stroke-width="0.6"/>
<text x="196.30" y="226.73" text-anchor="end" font-size="9.1" fill="#1a1a1a">1</text>
<text transform="translate(179.3,260.2) rotate(-90)" text-anchor="middle" font-size="10.4" fill="#1a1a1a">MTF (normalized)</text>
<text x="298.4" y="338.3" text-anchor="middle" font-size="10.4" fill="#1a1a1a">k (<tspan font-style="italic" letter-spacing="0.4">µ</tspan>m<tspan font-size="7.4" dy="-4.4" letter-spacing="0.2">-1</tspan><tspan dy="4.4">)</tspan></text>
<rect x="320.0" y="220.2" width="70.89999999999998" height="45.30000000000001" fill="#fff" stroke="#262626" stroke-width="0.75"/>
<line x1="322.4" y1="226.40" x2="345.2" y2="226.40" stroke="#0072bd" stroke-width="2.0"/>
<text x="347.3" y="229.35" font-size="8.1" fill="#000">WF</text>
<line x1="322.4" y1="237.40" x2="345.2" y2="237.40" stroke="#d95319" stroke-width="2.0"/>
<text x="347.3" y="240.35" font-size="8.1" fill="#000">SOFI2</text>
<line x1="322.4" y1="248.40" x2="345.2" y2="248.40" stroke="#edb120" stroke-width="2.0"/>
<text x="347.3" y="251.35" font-size="8.1" fill="#000">SOFI4</text>
<line x1="322.4" y1="259.40" x2="345.2" y2="259.40" stroke="#0072bd" stroke-width="2.0" stroke-dasharray="5.4 3.4"/>
<text x="347.3" y="262.35" font-size="8.1" fill="#000">SOFI 4 - FR</text>
</svg>
</body></html>
